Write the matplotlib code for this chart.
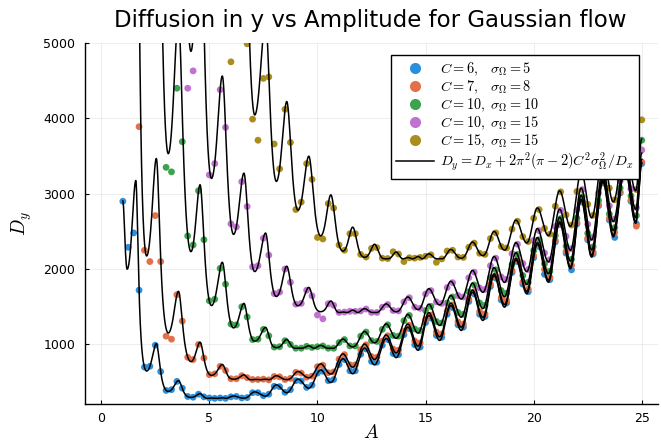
import numpy as np
import matplotlib.pyplot as plt
from matplotlib.lines import Line2D

plt.rcParams['mathtext.fontset'] = 'cm'
nan = np.nan

# D_x at its peaks and troughs (A, D_x), used by the theory curves
dx_a = [1.0, 1.2, 1.6, 2.1, 2.55, 3.1, 3.57, 4.15, 4.57, 5.1,
        5.6, 6.12, 6.6, 7.1, 7.6, 8.1, 8.58, 9.1, 9.6, 10.15,
        10.62, 11.18, 11.63, 12.18, 12.64, 13.18, 13.64, 14.18, 14.65, 15.15,
        15.65, 16.17, 16.65, 17.17, 17.65, 18.17, 18.65, 19.18, 19.68, 20.17,
        20.68, 21.2, 21.7, 22.2, 22.68, 23.2, 23.68, 24.22, 24.72, 25.0]
dx_v = [7.0, 10.2, 6.4, 33, 20.5, 65, 42.5, 106, 74, 167,
        114, 227, 163, 305, 225, 415, 290, 500, 364, 630,
        450, 785, 576, 930, 700, 1060, 800, 1213, 900, 1370,
        1034, 1500, 1169, 1680, 1303, 1900, 1481, 2110, 1661, 2320,
        1816, 2600, 1995, 2900, 2150, 3150, 2420, 3320, 2600, 3390]

# runs: flow strength C and sigma_Omega
run_c = [6, 7, 10, 10, 15]
run_sigma = [5, 8, 10, 15, 15]
run_colors = ['#2b8fdb', '#e2704a', '#3ea34f', '#c072d0', '#aa8d1d']
run_labels = [r'$C=6,\;\;\;\sigma_\Omega=5$',
              r'$C=7,\;\;\;\sigma_\Omega=8$',
              r'$C=10,\;\sigma_\Omega=10$',
              r'$C=10,\;\sigma_\Omega=15$',
              r'$C=15,\;\sigma_\Omega=15$']

# measured D_y, sampled every 0.25 in A from 1 to 25
a_pts = np.arange(1.0, 25.001, 0.25)
dy_blue = [2900, 2290, 2480, 1720, 700, 710, 990, 640,
           390, 400, 510, 420, 310, 300, 340, 305,
           290, 285, 290, 285, 305, 310, 290, 295,
           360, 360, 320, 340, 445, 440, 365, 400,
           520, 515, 430, 460, 620, 645, 520, 535,
           735, 800, 650, 650, 870, 940, 775, 765,
           990, 1065, 880, 865, 1130, 1210, 995, 965,
           1290, 1350, 1120, 1095, 1400, 1490, 1260, 1230,
           1570, 1670, 1400, 1370, 1770, 1880, 1590, 1550,
           1955, 2100, 1800, 1700, 2150, 2300, 1930, 1860,
           2360, 2590, 2210, 1990, 2600, 2890, 2390, 2200,
           2840, 3140, 2650, 2420, 3010, 3320, 2900, 2600,
           3400]
dy_orange = [nan, nan, nan, 3890, 2250, 2100, 2710, 2100,
             1110, 1070, 1660, 1310, 830, 800, 1000, 820,
             600, 610, 710, 655, 545, 545, 585, 560,
             535, 535, 540, 530, 575, 570, 535, 550,
             630, 620, 565, 580, 705, 725, 625, 635,
             805, 865, 730, 730, 930, 995, 840, 830,
             1045, 1115, 940, 925, 1175, 1255, 1045, 1020,
             1330, 1390, 1165, 1140, 1440, 1525, 1300, 1270,
             1600, 1700, 1435, 1405, 1800, 1910, 1620, 1580,
             1980, 2120, 1830, 1735, 2175, 2320, 1995, 1890,
             2380, 2610, 2235, 2050, 2615, 2905, 2410, 2225,
             2855, 3155, 2670, 2485, 3025, 3335, 2915, 2570,
             3420]
dy_green = [nan, nan, nan, nan, nan, nan, nan, nan,
            3350, 3290, 4400, 3690, 2440, 2320, 3040, 2390,
            1580, 1600, 2010, 1800, 1270, 1260, 1500, 1365,
            1065, 1070, 1200, 1115, 965, 970, 1050, 1000,
            950, 950, 975, 960, 970, 980, 950, 950,
            1025, 1065, 980, 980, 1110, 1165, 1050, 1040,
            1200, 1260, 1120, 1110, 1315, 1385, 1205, 1185,
            1450, 1505, 1305, 1285, 1550, 1630, 1425, 1400,
            1700, 1790, 1550, 1520, 1885, 1990, 1715, 1680,
            2060, 2195, 1915, 1825, 2245, 2390, 2070, 1970,
            2445, 2670, 2305, 2130, 2675, 2960, 2475, 2295,
            2910, 3200, 2730, 2550, 3075, 3380, 2970, 2710,
            3710]
dy_purple = [nan, nan, nan, nan, nan, nan, nan, nan,
             nan, nan, nan, nan, 4400, 4630, nan, nan,
             3250, 3400, 4380, 3880, 2600, 2560, 3160, 2830,
             2030, 2045, 2410, 2185, 1675, 1695, 2000, 1825,
             1535, 1545, 1720, 1645, 1390, 1340, 1540, 1520,
             1425, 1430, 1440, 1440, 1445, 1470, 1425, 1425,
             1495, 1530, 1450, 1445, 1565, 1620, 1495, 1480,
             1670, 1715, 1565, 1545, 1755, 1820, 1650, 1630,
             1885, 1960, 1750, 1730, 2045, 2145, 1895, 1865,
             2205, 2330, 2075, 1995, 2380, 2510, 2215, 2125,
             2565, 2780, 2435, 2270, 2785, 3055, 2595, 2425,
             3010, 3295, 2840, 2665, 3170, 3465, 3065, 2815,
             3580]
dy_gold = [nan, nan, nan, nan, nan, nan, nan, nan,
           nan, nan, nan, nan, nan, nan, nan, nan,
           nan, nan, nan, nan, 4750, nan, nan, 4990,
           3990, 3710, 4530, 4550, 3660, 3330, 4120, 3680,
           2790, 2890, 3400, 3190, 2420, 2400, 2870, 2810,
           2320, 2250, 2470, 2470, 2195, 2160, 2275, 2285,
           2145, 2140, 2230, 2200, 2100, 2150, 2145, 2155,
           2170, 2190, 2090, 2135, 2240, 2250, 2160, 2155,
           2290, 2345, 2210, 2195, 2405, 2480, 2300, 2280,
           2530, 2635, 2430, 2365, 2675, 2790, 2540, 2465,
           2835, 3025, 2720, 2585, 3030, 3275, 2860, 2715,
           3235, 3495, 3075, 2920, 3380, 3660, 3285, 3055,
           3980]
dy_runs = [dy_blue, dy_orange, dy_green, dy_purple, dy_gold]


def dx_between_extrema(a):
    # smooth half-cosine passage from one extremum of D_x to the next
    ak = np.asarray(dx_a)
    vk = np.asarray(dx_v, dtype=float)
    i = np.clip(np.searchsorted(ak, a) - 1, 0, len(ak) - 2)
    t = (a - ak[i]) / (ak[i + 1] - ak[i])
    w = (1 - np.cos(np.pi * t)) / 2
    return vk[i] + (vk[i + 1] - vk[i]) * w


fig = plt.figure(figsize=(6.61, 4.42), dpi=100)
ax = fig.add_axes([85 / 661, 1 - 404 / 442, 573 / 661, 361 / 442])

for dy, col in zip(dy_runs, run_colors):
    ax.scatter(a_pts, dy, s=24, color=col, edgecolors='none', zorder=2)

a_line = np.linspace(1.0, 25.0, 4000)
dx = dx_between_extrema(a_line)
for c, sig in zip(run_c, run_sigma):
    k = 2 * np.pi ** 2 * (np.pi - 2) * c ** 2 * sig ** 2
    ax.plot(a_line, dx + k / dx, color='black', lw=1.1, zorder=3)

ax.set_xlim(-0.75, 25.75)
ax.set_ylim(210, 5000)
ax.set_xticks([0, 5, 10, 15, 20, 25])
ax.set_yticks([1000, 2000, 3000, 4000, 5000])
ax.grid(True, color='black', alpha=0.08, lw=0.6)
ax.set_axisbelow(True)
for side in ['top', 'right']:
    ax.spines[side].set_visible(False)
for side in ['left', 'bottom']:
    ax.spines[side].set_linewidth(1.0)
ax.tick_params(direction='in', length=3, width=0.8, labelsize=9)
ax.tick_params(axis='y', pad=7)
ax.tick_params(axis='x', pad=6)

fig.text(370 / 661, 1 - 20 / 442, 'Diffusion in y vs Amplitude for Gaussian flow',
         ha='center', va='center', fontsize=16.5)
fig.text(371.5 / 661, 1 - 433 / 442, r'$A$', ha='center', va='center', fontsize=14)
fig.text(22 / 661, 1 - 224 / 442, r'$D_y$', ha='center', va='center',
         rotation=90, fontsize=14)

handles = [Line2D([], [], ls='', marker='o', ms=8, color=col, mec='none')
           for col in run_colors]
handles.append(Line2D([], [], color='black', lw=1.1))
labels = run_labels + [r'$D_y=D_x+2\pi^2(\pi-2)C^2\sigma_\Omega^2/D_x$']
leg = ax.legend(handles, labels, loc='upper right', bbox_to_anchor=(0.967, 0.967),
                borderaxespad=0, fontsize=10.3, frameon=True, fancybox=False,
                framealpha=1, edgecolor='black', handlelength=2.6,
                handletextpad=0.45, labelspacing=0.05, borderpad=0.4)
leg.get_frame().set_linewidth(1.0)

fig.savefig('out.png', dpi=100)
